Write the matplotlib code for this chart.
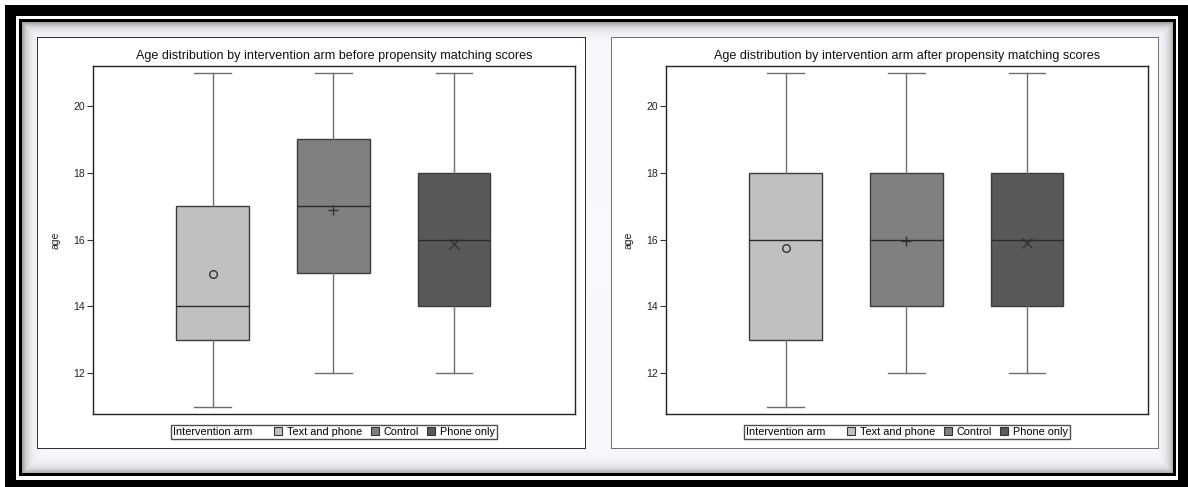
import numpy as np
import matplotlib
matplotlib.use("Agg")
import matplotlib.pyplot as plt
from matplotlib.patches import Rectangle
from matplotlib.offsetbox import HPacker

plt.rcParams['font.family'] = ['Liberation Sans', 'DejaVu Sans']

# summary statistics of age per intervention arm
arms = ["Text and phone", "Control", "Phone only"]
arm_colors = ["#c0c0c0", "#808080", "#595959"]
mean_markers = ["o", "+", "x"]

before_whislo = [11, 12, 12]
before_q1 = [13, 15, 14]
before_med = [14, 17, 16]
before_q3 = [17, 19, 18]
before_whishi = [21, 21, 21]
before_mean = [14.98, 16.9, 15.88]

after_whislo = [11, 12, 12]
after_q1 = [13, 14, 14]
after_med = [16, 16, 16]
after_q3 = [18, 18, 18]
after_whishi = [21, 21, 21]
after_mean = [15.75, 15.97, 15.9]

titles = ["Age distribution by intervention arm before propensity matching scores",
          "Age distribution by intervention arm after propensity matching scores"]

W, H = 1188, 487


def make_frame():
    img = np.ones((H, W, 3))
    yy, xx = np.mgrid[0:H, 0:W]
    # pale inner area with a soft shadow along the inner edge
    d = np.minimum.reduce([yy - 22, 473 - yy, xx - 22, 1173 - xx]).astype(float)
    pale = np.array([248, 249, 253]) / 255
    shade = np.clip(np.exp(-np.clip(d, 0, None) / 5.0) * 0.6, 0, 1)[..., None]
    inner = pale * (1 - shade) + np.array([0.4, 0.4, 0.4]) * shade
    mask = (d >= 0)
    img[mask] = inner[mask]
    # thick black band, white gap, thin black line
    outer = (xx >= 5) & (yy >= 5) & ~((xx >= 16) & (xx < 1178) & (yy >= 16) & (yy < 480))
    img[outer] = 0
    gap = (xx >= 16) & (xx < 1178) & (yy >= 16) & (yy < 480) & ~(
        (xx >= 19) & (xx < 1176) & (yy >= 19) & (yy < 476))
    img[gap] = 1
    thin = (xx >= 19) & (xx < 1176) & (yy >= 19) & (yy < 476) & ~(
        (xx >= 22) & (xx < 1173) & (yy >= 22) & (yy < 473))
    img[thin] = 0
    # two white panels
    for x0, x1, edge in [(37, 586, 0.2), (611, 1159, 0.45)]:
        img[37:449, x0:x1] = 1
        img[37, x0:x1] = edge
        img[448, x0:x1] = edge
        img[37:449, x0] = edge
        img[37:449, x1 - 1] = edge
    return img


fig = plt.figure(figsize=(W / 100, H / 100), dpi=100)
fig.figimage(make_frame(), xo=0, yo=0, origin='upper', zorder=-1)

panels = [
    (93, titles[0], before_whislo, before_q1, before_med, before_q3, before_whishi, before_mean),
    (666, titles[1], after_whislo, after_q1, after_med, after_q3, after_whishi, after_mean),
]

positions = [1, 2, 3]
for left, title, lo, q1, med, q3, hi, mean in panels:
    ax = fig.add_axes([left / W, (H - 414) / H, 482 / W, 348 / H])
    stats = [dict(whislo=lo[i], q1=q1[i], med=med[i], q3=q3[i], whishi=hi[i], fliers=[])
             for i in range(3)]
    bp = ax.bxp(stats, positions=positions, widths=0.6, patch_artist=True,
                capwidths=0.3, showfliers=False,
                boxprops=dict(edgecolor="#3c3c3c", linewidth=1.0),
                medianprops=dict(color="#2a2a2a", linewidth=1.0),
                whiskerprops=dict(color="#6e6e6e", linewidth=1.0),
                capprops=dict(color="#6e6e6e", linewidth=1.0))
    for patch, c in zip(bp["boxes"], arm_colors):
        patch.set_facecolor(c)
    for p, m, mk in zip(positions, mean, mean_markers):
        if mk == "o":
            ax.plot(p, m, marker=mk, ms=5.5, mfc="none", mec="#333333", mew=1.0)
        else:
            ax.plot(p, m, marker=mk, ms=7, color="#333333", mew=1.0)
    ax.set_xlim(0.01, 4.0)
    ax.set_ylim(10.78, 21.2)
    ax.set_yticks([12, 14, 16, 18, 20])
    ax.set_xticks([])
    ax.tick_params(axis="y", labelsize=7.5, length=4, width=0.8, color="#333333",
                   labelcolor="#222222", pad=2)
    for s in ax.spines.values():
        s.set_linewidth(1.0)
        s.set_color("#222222")
    ax.set_ylabel("age", fontsize=7.5, labelpad=9, color="#222222")
    ax.set_title(title, fontsize=9.1, pad=5, color="#111111")

    handles = [Rectangle((0, 0), 1, 1, facecolor=c, edgecolor="#333333", linewidth=0.8)
               for c in arm_colors]
    leg = ax.legend(handles, arms, ncol=3, loc="center",
                    bbox_to_anchor=(0.5, -0.052), fontsize=7.8,
                    title="Intervention arm", title_fontsize=7.8,
                    frameon=True, fancybox=False, edgecolor="#222222",
                    handlelength=0.75, handleheight=0.75, handletextpad=0.4,
                    columnspacing=0.8, borderpad=0.2, borderaxespad=0)
    leg.get_frame().set_linewidth(1.0)
    # put the legend title on the same row as the entries
    fs = leg._fontsize
    leg._legend_box = HPacker(pad=leg.borderpad * fs, sep=2.0 * fs, align="center",
                              children=[leg._legend_title_box, leg._legend_handle_box])
    leg._legend_box.set_figure(fig)
    leg._legend_box.axes = ax
    leg._legend_box.set_offset(leg._findoffset)

fig.savefig("out.png", dpi=100)
